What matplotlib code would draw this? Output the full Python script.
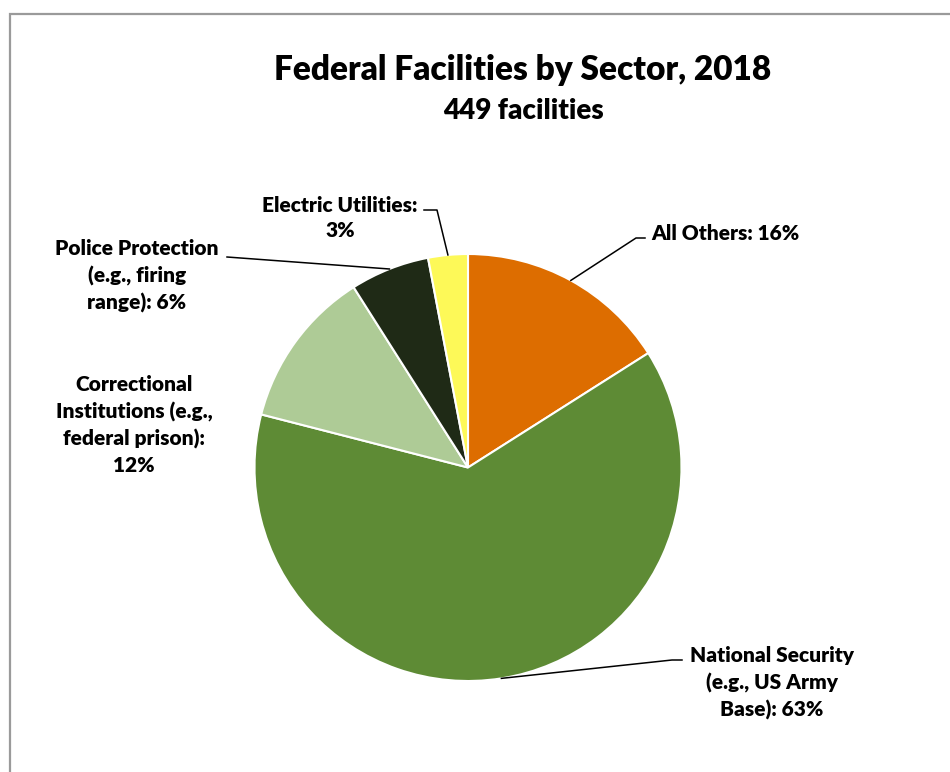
import numpy as np
import matplotlib
matplotlib.use("Agg")
import matplotlib.pyplot as plt
from matplotlib.patches import Rectangle

plt.rcParams['font.family'] = ['Lato', 'DejaVu Sans']
plt.rcParams['font.weight'] = 'heavy'

# sectors in clockwise order from 12 o'clock
sectors = ["All Others", "National Security", "Correctional Institutions",
           "Police Protection", "Electric Utilities"]
shares = [16, 63, 12, 6, 3]
labels = ["All Others: 16%",
          "National Security\n(e.g., US Army\nBase): 63%",
          "Correctional\nInstitutions (e.g.,\nfederal prison):\n12%",
          "Police Protection\n(e.g., firing\nrange): 6%",
          "Electric Utilities:\n3%"]
colors = ["#DD6D00", "#5E8B35", "#AECB96", "#1F2A16", "#FDF958"]

W, H = 950, 772
fig = plt.figure(figsize=(W / 100, H / 100), dpi=100)
ax = fig.add_axes([0, 0, 1, 1])

# chart frame (only top and left edges fall inside the image)
ax.add_patch(Rectangle((10, -20), W + 40, H - 14 + 20, fill=False,
                       edgecolor="#9a9a9a", lw=1.6))

cx, cy, r = 468, H - 467.5, 213.5
wedges, _ = ax.pie(shares, colors=colors, startangle=90, counterclock=False,
                   center=(cx, cy), radius=r, frame=True,
                   wedgeprops=dict(edgecolor="white", linewidth=1.5))
ax.set_xlim(0, W)
ax.set_ylim(0, H)
ax.set_aspect('equal')
ax.axis('off')

ax.text(523, H - 70, "Federal Facilities by Sector, 2018", ha='center',
        va='center', fontsize=24, fontweight='heavy')
ax.text(523, H - 111, "449 facilities", ha='center', va='center',
        fontsize=20, fontweight='heavy')

# label anchor, text alignment, elbow of leader line (None = no leader)
label_pos = [(651, 233, 'left'), (772, 683, 'center'), (134, 425, 'center'),
             (137, 276, 'center'), (340, 218, 'center')]
elbows = [[(636, 238), (645, 238)],
          [(672, 660), (682, 660)],
          None,
          [(227, 257)],
          [(437, 210), (424, 210)]]

for w, lab, (lx, ly, ha), elb in zip(wedges, labels, label_pos, elbows):
    ax.text(lx, H - ly, lab, ha=ha, va='center', multialignment='center',
            fontsize=15, fontweight='heavy', linespacing=1.43)
    if elb is None:
        continue
    mid = np.deg2rad((w.theta1 + w.theta2) / 2)
    xs = [cx + r * np.cos(mid)] + [p[0] for p in elb]
    ys = [cy + r * np.sin(mid)] + [H - p[1] for p in elb]
    ax.plot(xs, ys, color='black', lw=1.1)

fig.savefig("out.png", dpi=100)
